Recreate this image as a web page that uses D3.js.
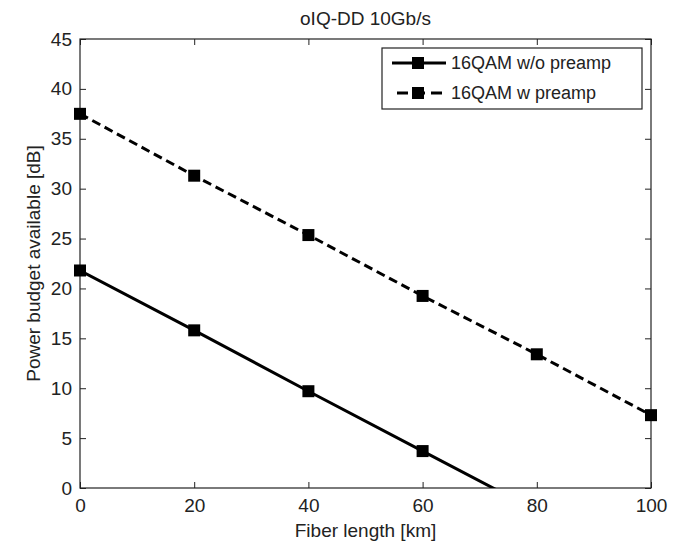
<!DOCTYPE html>
<html>
<head>
<meta charset="utf-8">
<script src="https://cdn.jsdelivr.net/npm/d3@7"></script>
<style>
  html, body { margin: 0; padding: 0; background: #fff; }
  svg { display: block; }
  text { font-family: "Liberation Sans", Arial, sans-serif; fill: #222; }
</style>
</head>
<body>
<svg id="chart" width="681" height="545"></svg>
<script>
const fiberLength = [0, 20, 40, 60, 80, 100];
const withoutPreamp = [21.8, 15.8, 9.7, 3.7, -2.3, -8.3];
const withPreamp = [37.5, 31.3, 25.35, 19.25, 13.4, 7.3];
const seriesNames = ["16QAM w/o preamp", "16QAM w preamp"];
const xTicks = [0, 20, 40, 60, 80, 100];
const yTicks = [0, 5, 10, 15, 20, 25, 30, 35, 40, 45];
const titleText = "oIQ-DD 10Gb/s";
const xLabel = "Fiber length [km]";
const yLabel = "Power budget available [dB]";

const svg = d3.select("#chart");
const L = 80, R = 651, T = 39, B = 488;
const x = d3.scaleLinear().domain([0, 100]).range([L, R]);
const y = d3.scaleLinear().domain([0, 45]).range([B, T]);

svg.append("defs").append("clipPath").attr("id", "clip")
  .append("rect").attr("x", L).attr("y", T).attr("width", R - L).attr("height", B - T);

const tickLen = 6;
const fs = 19;
const gx = svg.append("g").attr("transform", `translate(0,${B})`)
  .call(d3.axisBottom(x).tickValues(xTicks).tickSizeInner(-tickLen).tickSizeOuter(0).tickPadding(11));
const gxTop = svg.append("g").attr("transform", `translate(0,${T})`)
  .call(d3.axisTop(x).tickValues(xTicks).tickSizeInner(-tickLen).tickSizeOuter(0).tickFormat(""));
const gy = svg.append("g").attr("transform", `translate(${L},0)`)
  .call(d3.axisLeft(y).tickValues(yTicks).tickSizeInner(-tickLen).tickSizeOuter(0).tickPadding(8));
const gyR = svg.append("g").attr("transform", `translate(${R},0)`)
  .call(d3.axisRight(y).tickValues(yTicks).tickSizeInner(-tickLen).tickSizeOuter(0).tickFormat(""));
[gx, gxTop, gy, gyR].forEach(g => {
  g.select(".domain").remove();
  g.selectAll(".tick line").attr("stroke", "#222").attr("stroke-width", 1);
  g.selectAll("text").attr("font-size", fs).attr("font-family", '"Liberation Sans", Arial, sans-serif').attr("fill", "#333");
});
gx.selectAll("text").attr("dy", "0.71em");

svg.append("rect").attr("x", L).attr("y", T).attr("width", R - L).attr("height", B - T)
  .attr("fill", "none").attr("stroke", "#222").attr("stroke-width", 1.2);

const line = d3.line().x((d, i) => x(fiberLength[i])).y(d => y(d));
const plot = svg.append("g").attr("clip-path", "url(#clip)");
const styles = [
  { data: withoutPreamp, dash: null },
  { data: withPreamp, dash: "9,5" }
];
const ms = 12;
styles.forEach(s => {
  plot.append("path").datum(s.data).attr("d", line)
    .attr("fill", "none").attr("stroke", "#000").attr("stroke-width", 3)
    .attr("stroke-dasharray", s.dash);
});
styles.forEach(s => {
  svg.append("g").selectAll("rect")
    .data(s.data.map((v, i) => [fiberLength[i], v]).filter(d => d[1] >= 0 && d[1] <= 45))
    .join("rect")
    .attr("x", d => x(d[0]) - ms / 2).attr("y", d => y(d[1]) - ms / 2)
    .attr("width", ms).attr("height", ms).attr("fill", "#000");
});

svg.append("text").attr("x", (L + R) / 2).attr("y", 25).attr("text-anchor", "middle")
  .attr("font-size", 19).attr("fill", "#333").text(titleText);
svg.append("text").attr("x", (L + R) / 2).attr("y", 537).attr("text-anchor", "middle")
  .attr("font-size", 19).attr("fill", "#333").text(xLabel);
svg.append("text").attr("transform", `translate(40,${(T + B) / 2}) rotate(-90)`)
  .attr("text-anchor", "middle").attr("font-size", 19).attr("fill", "#333").text(yLabel);

const lg = svg.append("g");
lg.append("rect").attr("x", 382).attr("y", 48).attr("width", 260).attr("height", 61)
  .attr("fill", "#fff").attr("stroke", "#222").attr("stroke-width", 1.2);
const rowY = [63, 93];
styles.forEach((s, i) => {
  lg.append("line").attr("x1", s.dash ? 397 : 392).attr("x2", 446).attr("y1", rowY[i]).attr("y2", rowY[i])
    .attr("stroke", "#000").attr("stroke-width", 3)
    .attr("stroke-dasharray", s.dash ? "11,6" : null);
  lg.append("rect").attr("x", 418 - ms / 2).attr("y", rowY[i] - ms / 2)
    .attr("width", ms).attr("height", ms).attr("fill", "#000");
  lg.append("text").attr("x", 451).attr("y", rowY[i]).attr("dy", "0.36em")
    .attr("font-size", 18).attr("fill", "#333").text(seriesNames[i]);
});
</script>
</body>
</html>
